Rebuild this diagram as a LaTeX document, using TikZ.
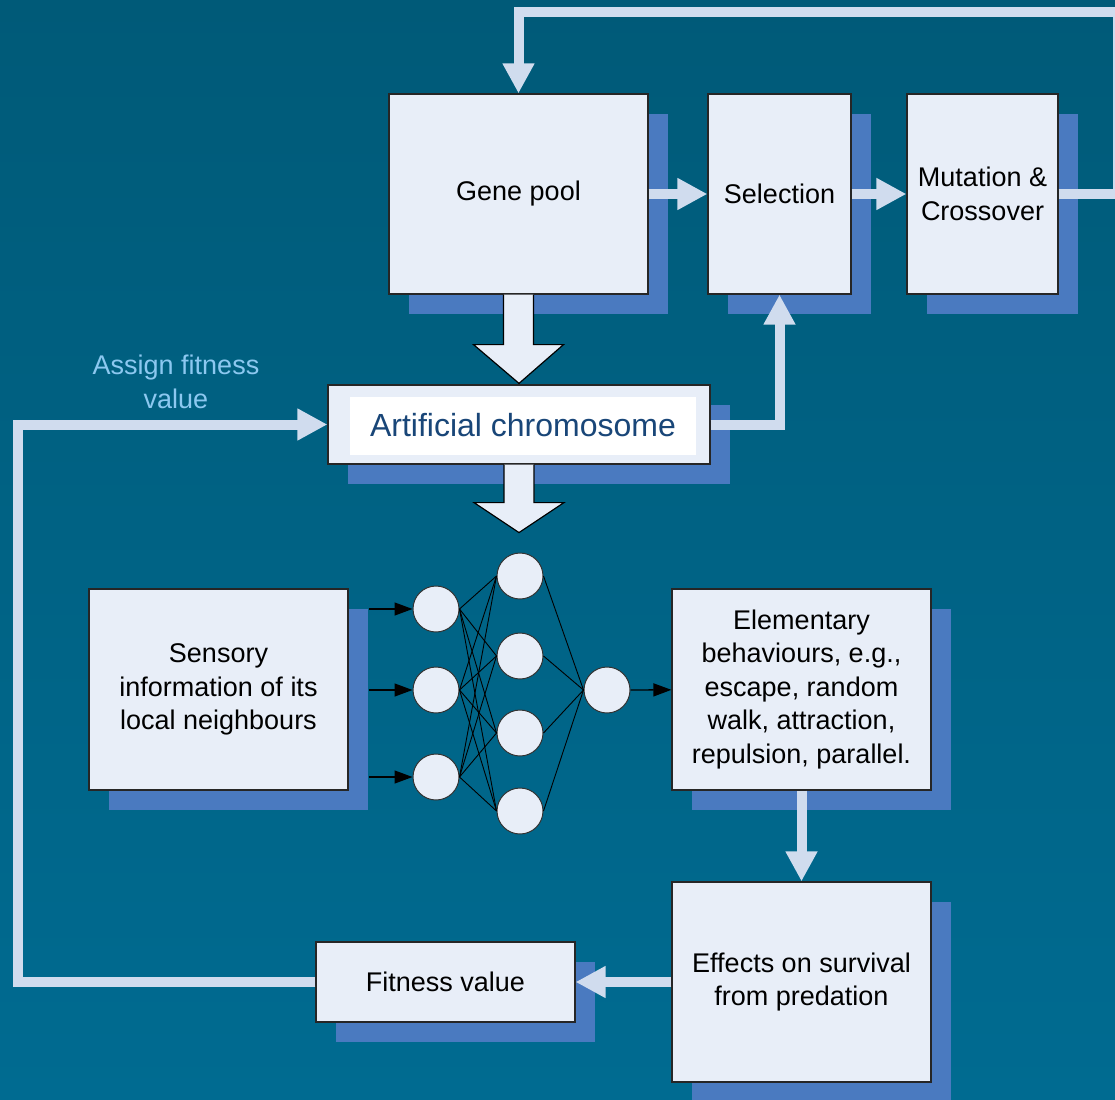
\documentclass[tikz,border=0pt]{standalone}
\usepackage{fontspec}
\setmainfont{Liberation Sans}
\usetikzlibrary{arrows.meta,shadows,calc}

\definecolor{bgtop}{RGB}{0,90,120}
\definecolor{bgbottom}{RGB}{0,107,145}
\definecolor{boxfill}{RGB}{232,238,248}
\definecolor{shadowblue}{RGB}{74,122,192}
\definecolor{flowcol}{RGB}{208,220,238}
\definecolor{labelblue}{RGB}{140,200,240}
\definecolor{chromtext}{RGB}{25,70,120}

\tikzset{
  stagebox/.style={rectangle, draw=black!85, line width=1.2pt, fill=boxfill, align=center, inner sep=0pt,
    font=\fontsize{27}{33.5}\selectfont,
    drop shadow={shadow xshift=20pt, shadow yshift=-20pt, fill=shadowblue, opacity=1}},
  neuron/.style={circle, draw=black!80, line width=1pt, fill=boxfill, minimum size=46pt, inner sep=0pt},
  flow/.style={draw=flowcol, line width=10pt, -{Triangle[width=30pt,length=30pt]}},
  synapse/.style={draw=black, line width=0.9pt},
  signal/.style={draw=black, line width=1.3pt, -{Triangle[width=13pt,length=18pt]}},
  blockarrow/.style={draw=black, line width=1.2pt, fill=boxfill},
}

\begin{document}
\begin{tikzpicture}[x=1pt, y=-1pt]

\useasboundingbox (0,0) rectangle (1115,1099);
\shade[top color=bgtop, bottom color=bgbottom] (0,0) rectangle (1115,1099);

% genetic algorithm
\node [stagebox, minimum width=259pt, minimum height=200pt] (gene) at (518.5,194) {Gene pool};
\node [stagebox, minimum width=143pt, minimum height=200pt] (sel) at (779.5,194) {Selection};
\node [stagebox, minimum width=151pt, minimum height=200pt] (mut) at (982.5,194) {Mutation \&\\Crossover};
\node [stagebox, minimum width=382pt, minimum height=79pt] (chrom) at (519,424.5) {};
\node [fill=white, minimum width=346pt, minimum height=58pt, inner sep=0pt, text=chromtext,
  font=\fontsize{32}{38}\selectfont] (chromlabel) at ([xshift=4pt,yshift=-1pt]chrom.center) {Artificial chromosome};

% simulation
\node [stagebox, minimum width=259pt, minimum height=201pt] (sens) at (218.5,689.5) {Sensory\\information of its\\local neighbours};
\node [stagebox, minimum width=259pt, minimum height=201pt] (elem) at (801.5,689.5) {Elementary\\behaviours, e.g.,\\escape, random\\walk, attraction,\\repulsion, parallel.};
\node [stagebox, minimum width=259pt, minimum height=200pt] (eff) at (801.5,982) {Effects on survival\\from predation};
\node [stagebox, minimum width=259pt, minimum height=80pt] (fit) at (445.5,982) {Fitness value};
\node [text=labelblue, align=center, font=\fontsize{27}{33.5}\selectfont] (assign) at (176,382) {Assign fitness\\value};

% neural network
\node [neuron] (in1) at (436,609) {};
\node [neuron] (in2) at (436,690) {};
\node [neuron] (in3) at (436,777) {};
\node [neuron] (hid1) at (520,576) {};
\node [neuron] (hid2) at (520,656) {};
\node [neuron] (hid3) at (520,733) {};
\node [neuron] (hid4) at (520,811) {};
\node [neuron] (out) at (607,690) {};
\draw [synapse] (in1.east) -- (hid1.west);
\draw [synapse] (in1.east) -- (hid2.west);
\draw [synapse] (in1.east) -- (hid3.west);
\draw [synapse] (in1.east) -- (hid4.west);
\draw [synapse] (in2.east) -- (hid1.west);
\draw [synapse] (in2.east) -- (hid2.west);
\draw [synapse] (in2.east) -- (hid3.west);
\draw [synapse] (in2.east) -- (hid4.west);
\draw [synapse] (in3.east) -- (hid1.west);
\draw [synapse] (in3.east) -- (hid2.west);
\draw [synapse] (in3.east) -- (hid3.west);
\draw [synapse] (in3.east) -- (hid4.west);
\draw [synapse] (hid1.east) -- (out.west);
\draw [synapse] (hid2.east) -- (out.west);
\draw [synapse] (hid3.east) -- (out.west);
\draw [synapse] (hid4.east) -- (out.west);

\coordinate (sensedge) at ([xshift=20pt]sens.east);
\draw [signal] (sensedge |- in1) -- (in1);
\draw [signal] (sensedge |- in2) -- (in2);
\draw [signal] (sensedge |- in3) -- (in3);
\draw [signal] (out) -- (elem);

% block arrows
\draw [blockarrow] ($(gene.south)+(-15,0)$) -- ++(0,50) -- ++(-30,0) -- ($(chrom.north)+(0,-1)$)
  -- ($(gene.south)+(45,50)$) -- ++(-30,0) -- ($(gene.south)+(15,0)$);
\draw [blockarrow] ($(chrom.south)+(-15,0)$) -- ++(0,38) -- ++(-30,0) -- ($(chrom.south)+(0,68)$)
  -- ($(chrom.south)+(45,38)$) -- ++(-30,0) -- ($(chrom.south)+(15,0)$);

% flows
\coordinate (topturn) at (1118,12);
\coordinate (leftturn) at (18,424.5);
\draw [flow] (gene) -- (sel);
\draw [flow] (sel) -- (mut);
\draw [flow] (mut.east) -| (topturn) -| (gene.north);
\draw [flow] (chrom.east) -| (sel.south);
\draw [flow] (elem) -- (eff);
\draw [flow] (eff) -- (fit);
\draw [flow] (fit.west) -| (leftturn) -- (chrom.west);

\end{tikzpicture}
\end{document}
